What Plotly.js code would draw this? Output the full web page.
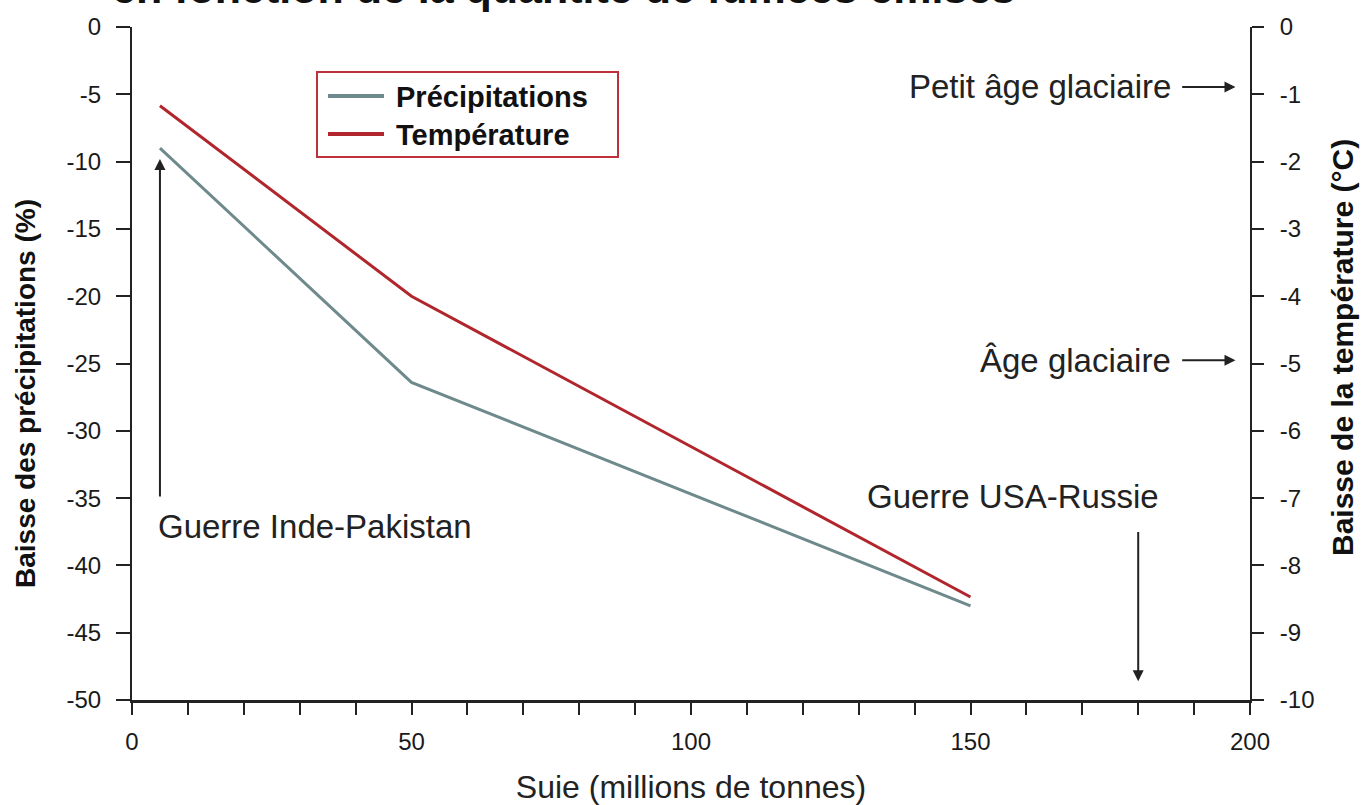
<!DOCTYPE html>
<html><head><meta charset="utf-8">
<script src="https://cdn.plot.ly/plotly-3.0.1.min.js"></script>
<style>html,body{margin:0;padding:0;background:#fff}#chart{width:1369px;height:805px}</style>
</head><body><div id="chart"></div>
<script>
const soot = [5, 50, 150];
const precipitation = [-9, -26.4, -43];
const temperature = [-1.17, -4.0, -8.47];
const seriesNames = ['Précipitations', 'Température'];
const seriesColors = ['#6f8a8c', '#b0262c'];
const xTicks = [0, 50, 100, 150, 200];
const yLeftTicks = [0, -5, -10, -15, -20, -25, -30, -35, -40, -45, -50];
const yRightTicks = [0, -1, -2, -3, -4, -5, -6, -7, -8, -9, -10];
const fmt = v => String(v);

const sans = '"Liberation Sans", Arial, sans-serif';
const W = 1369, H = 805, ML = 132, MR = 119, MT = 27, MB = 105;
const PW = W - ML - MR, PH = H - MT - MB;
const px = x => (x - ML) / PW;      // page pixel -> paper x
const py = y => 1 - (y - MT) / PH;  // page pixel -> paper y

const traces = [
  {x: soot, y: precipitation, name: seriesNames[0], type: 'scatter', mode: 'lines',
   line: {color: seriesColors[0], width: 3}},
  {x: soot, y: temperature, name: seriesNames[1], type: 'scatter', mode: 'lines', yaxis: 'y2',
   line: {color: seriesColors[1], width: 3}}
];

const annFont = {family: sans, size: 33, color: '#222'};
const arrow = {showarrow: true, arrowhead: 2, arrowsize: 1.1, arrowwidth: 2, arrowcolor: '#222', text: ''};
const tickFont = {family: sans, size: 24, color: '#1a1a1a'};
const layout = {
  width: W, height: H,
  margin: {l: ML, r: MR, t: MT, b: MB},
  paper_bgcolor: '#fff', plot_bgcolor: '#fff',
  showlegend: false,
  xaxis: {range: [0, 200], tickvals: xTicks, ticktext: xTicks.map(fmt), showgrid: false, zeroline: false,
          showline: true, linecolor: '#222', linewidth: 3, ticks: 'outside', ticklen: 12, tickwidth: 2, tickcolor: '#222',
          minor: {dtick: 10, ticks: 'outside', ticklen: 12, tickwidth: 2, tickcolor: '#222'},
          tickfont: tickFont, ticklabelstandoff: 6,
          title: {text: 'Suie (millions de tonnes)', font: {family: sans, size: 32, color: '#222'}, standoff: 24}},
  yaxis: {range: [-50, 0], tickvals: yLeftTicks, ticktext: yLeftTicks.map(fmt), showgrid: false, zeroline: false,
          showline: true, linecolor: '#222', linewidth: 2, ticks: 'outside', ticklen: 14, tickwidth: 2, tickcolor: '#222',
          tickfont: tickFont, ticklabelstandoff: 10},
  yaxis2: {range: [-10, 0], tickvals: yRightTicks, ticktext: yRightTicks.map(fmt), overlaying: 'y', side: 'right', showgrid: false, zeroline: false,
           showline: true, linecolor: '#222', linewidth: 2, ticks: 'outside', ticklen: 12, tickwidth: 2, tickcolor: '#222',
           tickfont: tickFont, ticklabelstandoff: 11},
  shapes: [
    {type: 'rect', xref: 'paper', yref: 'paper', x0: px(317), x1: px(618), y0: py(157), y1: py(72),
     line: {color: '#c0303a', width: 2}, fillcolor: '#fff', layer: 'above'},
    {type: 'line', xref: 'paper', yref: 'paper', x0: px(328), x1: px(384), y0: py(96), y1: py(96),
     line: {color: seriesColors[0], width: 4}, layer: 'above'},
    {type: 'line', xref: 'paper', yref: 'paper', x0: px(328), x1: px(384), y0: py(134), y1: py(134),
     line: {color: seriesColors[1], width: 4}, layer: 'above'}
  ],
  annotations: [
    {xref: 'paper', yref: 'paper', x: px(110), y: py(14), xanchor: 'left', yanchor: 'bottom', showarrow: false,
     text: '<b>en fonction de la quantité de fumées émises</b>', font: {family: sans, size: 43, color: '#111'}},
    {xref: 'paper', yref: 'paper', x: px(394), y: py(97), xanchor: 'left', yanchor: 'middle', showarrow: false,
     text: '<b>' + seriesNames[0] + '</b>', font: {family: sans, size: 29, color: '#111'}},
    {xref: 'paper', yref: 'paper', x: px(394), y: py(135), xanchor: 'left', yanchor: 'middle', showarrow: false,
     text: '<b>' + seriesNames[1] + '</b>', font: {family: sans, size: 29, color: '#111'}},
    {xref: 'paper', yref: 'paper', x: px(26), y: py(394), xanchor: 'center', yanchor: 'middle', showarrow: false, textangle: -90,
     text: '<b>Baisse des précipitations (%)</b>', font: {family: sans, size: 28, color: '#111'}},
    {xref: 'paper', yref: 'paper', x: px(1342), y: py(348), xanchor: 'center', yanchor: 'middle', showarrow: false, textangle: -90,
     text: '<b>Baisse de la température (°C)</b>', font: {family: sans, size: 30, color: '#111'}},
    Object.assign({x: 5, y: -9.8, xref: 'x', yref: 'y', ax: 5, ay: -35, axref: 'x', ayref: 'y'}, arrow),
    {x: 4.3, y: -37.1, xref: 'x', yref: 'y', xanchor: 'left', yanchor: 'middle', showarrow: false,
     text: 'Guerre Inde-Pakistan', font: annFont},
    Object.assign({x: 180, y: -48.6, xref: 'x', yref: 'y', ax: 180, ay: -37.4, axref: 'x', ayref: 'y'}, arrow),
    {x: 184, y: -34.9, xref: 'x', yref: 'y', xanchor: 'right', yanchor: 'middle', showarrow: false,
     text: 'Guerre USA-Russie', font: annFont},
    Object.assign({x: 197.4, y: -0.89, xref: 'x', yref: 'y2', ax: 187.6, ay: -0.89, axref: 'x', ayref: 'y2'}, arrow),
    {x: 186.3, y: -0.89, xref: 'x', yref: 'y2', xanchor: 'right', yanchor: 'middle', showarrow: false,
     text: 'Petit âge glaciaire', font: annFont},
    Object.assign({x: 197.4, y: -4.95, xref: 'x', yref: 'y2', ax: 187.6, ay: -4.95, axref: 'x', ayref: 'y2'}, arrow),
    {x: 186.3, y: -4.95, xref: 'x', yref: 'y2', xanchor: 'right', yanchor: 'middle', showarrow: false,
     text: 'Âge glaciaire', font: annFont}
  ]
};
Plotly.newPlot('chart', traces, layout, {displayModeBar: false, staticPlot: true});
</script></body></html>
